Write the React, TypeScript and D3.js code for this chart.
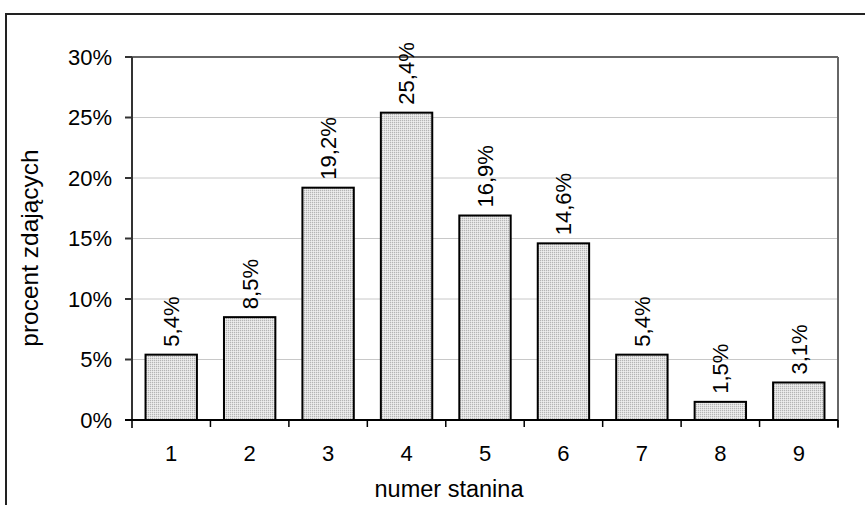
import React from "react";
import * as d3 from "d3";

const categories = ["1", "2", "3", "4", "5", "6", "7", "8", "9"];
const values = [5.4, 8.5, 19.2, 25.4, 16.9, 14.6, 5.4, 1.5, 3.1];
const yTicks = [0, 5, 10, 15, 20, 25, 30];
const yTitle = "procent zdających";
const xTitle = "numer stanina";

const W = 865;
const H = 505;
const M = { left: 132, right: 838, top: 57, bottom: 420 };
const FONT = "'Liberation Sans', Arial, sans-serif";

export default function App() {
  const x = d3
    .scaleBand<string>()
    .domain(categories)
    .range([M.left, M.right])
    .paddingInner(0.345)
    .paddingOuter(0.1725);
  const xb = d3.scaleBand<string>().domain(categories).range([M.left, M.right]);
  const y = d3.scaleLinear().domain([0, 30]).range([M.bottom, M.top]);
  const fmt = (v: number) => v.toFixed(1).replace(".", ",") + "%";

  return (
    <svg
      width={W}
      height={H}
      style={{ position: "absolute", left: 0, top: 0, background: "#fff" }}
      fontFamily={FONT}
    >
      <defs>
        <pattern id="dots" width="4" height="2" patternUnits="userSpaceOnUse">
          <rect width="4" height="2" fill="#e0e0e0" />
          <rect x="0" y="0" width="1" height="1" fill="#b4b4b4" />
          <rect x="2" y="0" width="1" height="1" fill="#b4b4b4" />
          <rect x="1" y="1" width="1" height="1" fill="#eeeeee" />
          <rect x="3" y="1" width="1" height="1" fill="#eeeeee" />
        </pattern>
      </defs>
      <rect width={W} height={H} fill="#fff" />
      <rect x={6} y={14} width={W + 20} height={H + 20} fill="none" stroke="#222" strokeWidth={2} />

      {/* gridlines */}
      {yTicks.slice(1, -1).map((t) => (
        <line key={t} x1={M.left} x2={M.right} y1={y(t)} y2={y(t)} stroke="#c8c8c8" strokeWidth={1} />
      ))}
      {/* plot border top & right */}
      <line x1={M.left} x2={M.right} y1={M.top} y2={M.top} stroke="#666" strokeWidth={2} />
      <line x1={M.right} x2={M.right} y1={M.top} y2={M.bottom + 8} stroke="#666" strokeWidth={2} />

      {/* bars */}
      {categories.map((c, i) => (
        <rect
          key={c}
          x={x(c)!}
          y={y(values[i])}
          width={x.bandwidth()}
          height={y(0) - y(values[i])}
          fill="url(#dots)"
          stroke="#000"
          strokeWidth={2}
        />
      ))}

      {/* y axis */}
      <line x1={M.left} x2={M.left} y1={M.top} y2={M.bottom + 8} stroke="#333" strokeWidth={2} />
      {yTicks.map((t) => (
        <g key={t}>
          <line x1={M.left - 7} x2={M.left} y1={y(t)} y2={y(t)} stroke="#333" strokeWidth={2} />
          <text x={M.left - 20} y={y(t)} dy="0.36em" textAnchor="end" fontSize={22} fill="#000">
            {t}%
          </text>
        </g>
      ))}

      {/* x axis */}
      <line x1={M.left - 7} x2={M.right} y1={M.bottom} y2={M.bottom} stroke="#000" strokeWidth={2} />
      {categories.map((c) => (
        <line
          key={"t" + c}
          x1={xb(c)! + xb.bandwidth()}
          x2={xb(c)! + xb.bandwidth()}
          y1={M.bottom}
          y2={M.bottom + 7}
          stroke="#000"
          strokeWidth={1.5}
        />
      ))}
      {categories.map((c) => (
        <text
          key={"l" + c}
          x={xb(c)! + xb.bandwidth() / 2}
          y={461}
          textAnchor="middle"
          fontSize={22}
          fill="#000"
        >
          {c}
        </text>
      ))}

      {/* data labels */}
      {categories.map((c, i) => {
        const cx = x(c)! + x.bandwidth() / 2;
        const cy = y(values[i]) - 8;
        return (
          <text
            key={"d" + c}
            transform={`translate(${cx},${cy}) rotate(-90)`}
            dy="0.36em"
            textAnchor="start"
            fontSize={22}
            fill="#000"
          >
            {fmt(values[i])}
          </text>
        );
      })}

      <text x={449} y={497} textAnchor="middle" fontSize={23.5} fill="#000">
        {xTitle}
      </text>
      <text
        transform={`translate(38,248) rotate(-90)`}
        textAnchor="middle"
        fontSize={24.5}
        fill="#000"
      >
        {yTitle}
      </text>
    </svg>
  );
}
